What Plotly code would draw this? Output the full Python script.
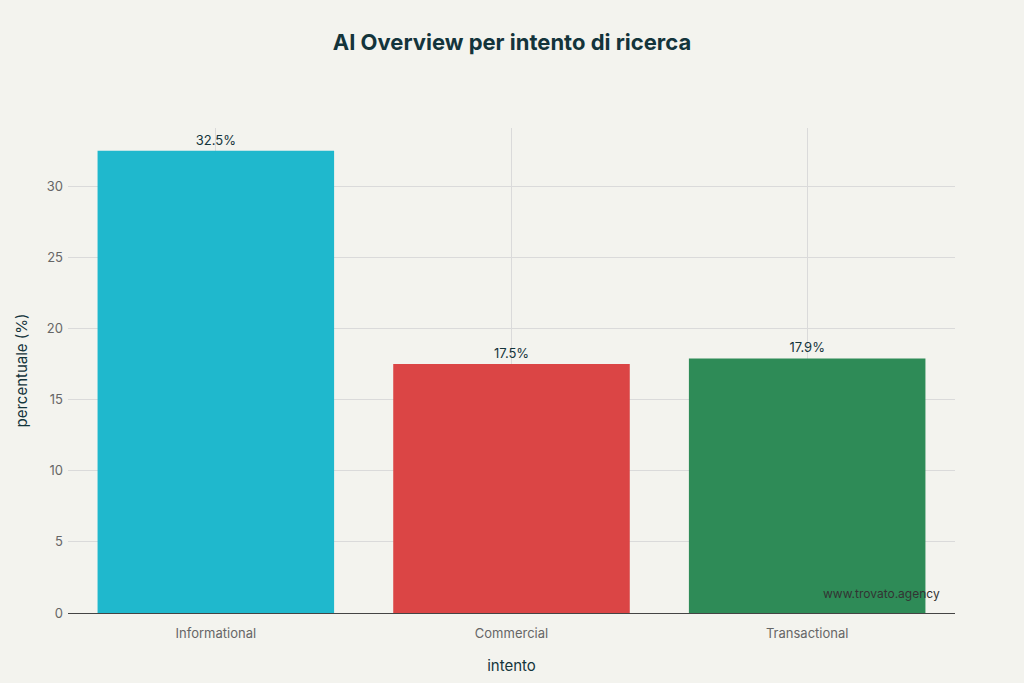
import plotly.graph_objects as go

categories = ['Informational', 'Commercial', 'Transactional']
values = [32.5, 17.5, 17.9]
labels = ['32.5%', '17.5%', '17.9%']
colors = ['#1FB8CD', '#DB4545', '#2E8B57']

fig = go.Figure()
fig.add_trace(go.Bar(
    x=categories,
    y=values,
    marker_color=colors,
    marker_line_width=0,
    text=labels,
    textposition='outside',
    textfont=dict(size=13, color='#13343B'),
    cliponaxis=False
))

fig.update_layout(
    title=dict(text='<b>AI Overview per intento di ricerca</b>', x=0.5, y=1 - 42 / 683,
               xanchor='center', yanchor='middle',
               font=dict(size=22, color='#13343B', family='Inter')),
    font=dict(family='Inter', color='#666'),
    paper_bgcolor='#F3F3EE',
    plot_bgcolor='#F3F3EE',
    bargap=0.2,
    width=1024, height=683,
    margin=dict(l=68, r=69, t=128, b=66),
    showlegend=False,
    annotations=[dict(text='www.trovato.agency', xref='paper', yref='paper', x=0.985, y=0.02,
                      xanchor='right', yanchor='bottom', showarrow=False,
                      font=dict(size=12, color='#333'))]
)
fig.update_xaxes(title=dict(text='intento', font=dict(size=15, color='#13343B'), standoff=20),
                 showgrid=True, gridcolor='#DADADA', showline=True, linecolor='#444',
                 tickfont=dict(size=13), ticklabelstandoff=8)
fig.update_yaxes(title=dict(text='percentuale (%)', font=dict(size=15, color='#13343B')),
                 range=[0, 34.1], dtick=5, gridcolor='#DADADA', zeroline=False,
                 tickfont=dict(size=13), ticklabelstandoff=4)

fig.write_html('out.html', config={'displayModeBar': False},
               post_script="document.body.style.margin='0';document.body.style.background='#F3F3EE';")
